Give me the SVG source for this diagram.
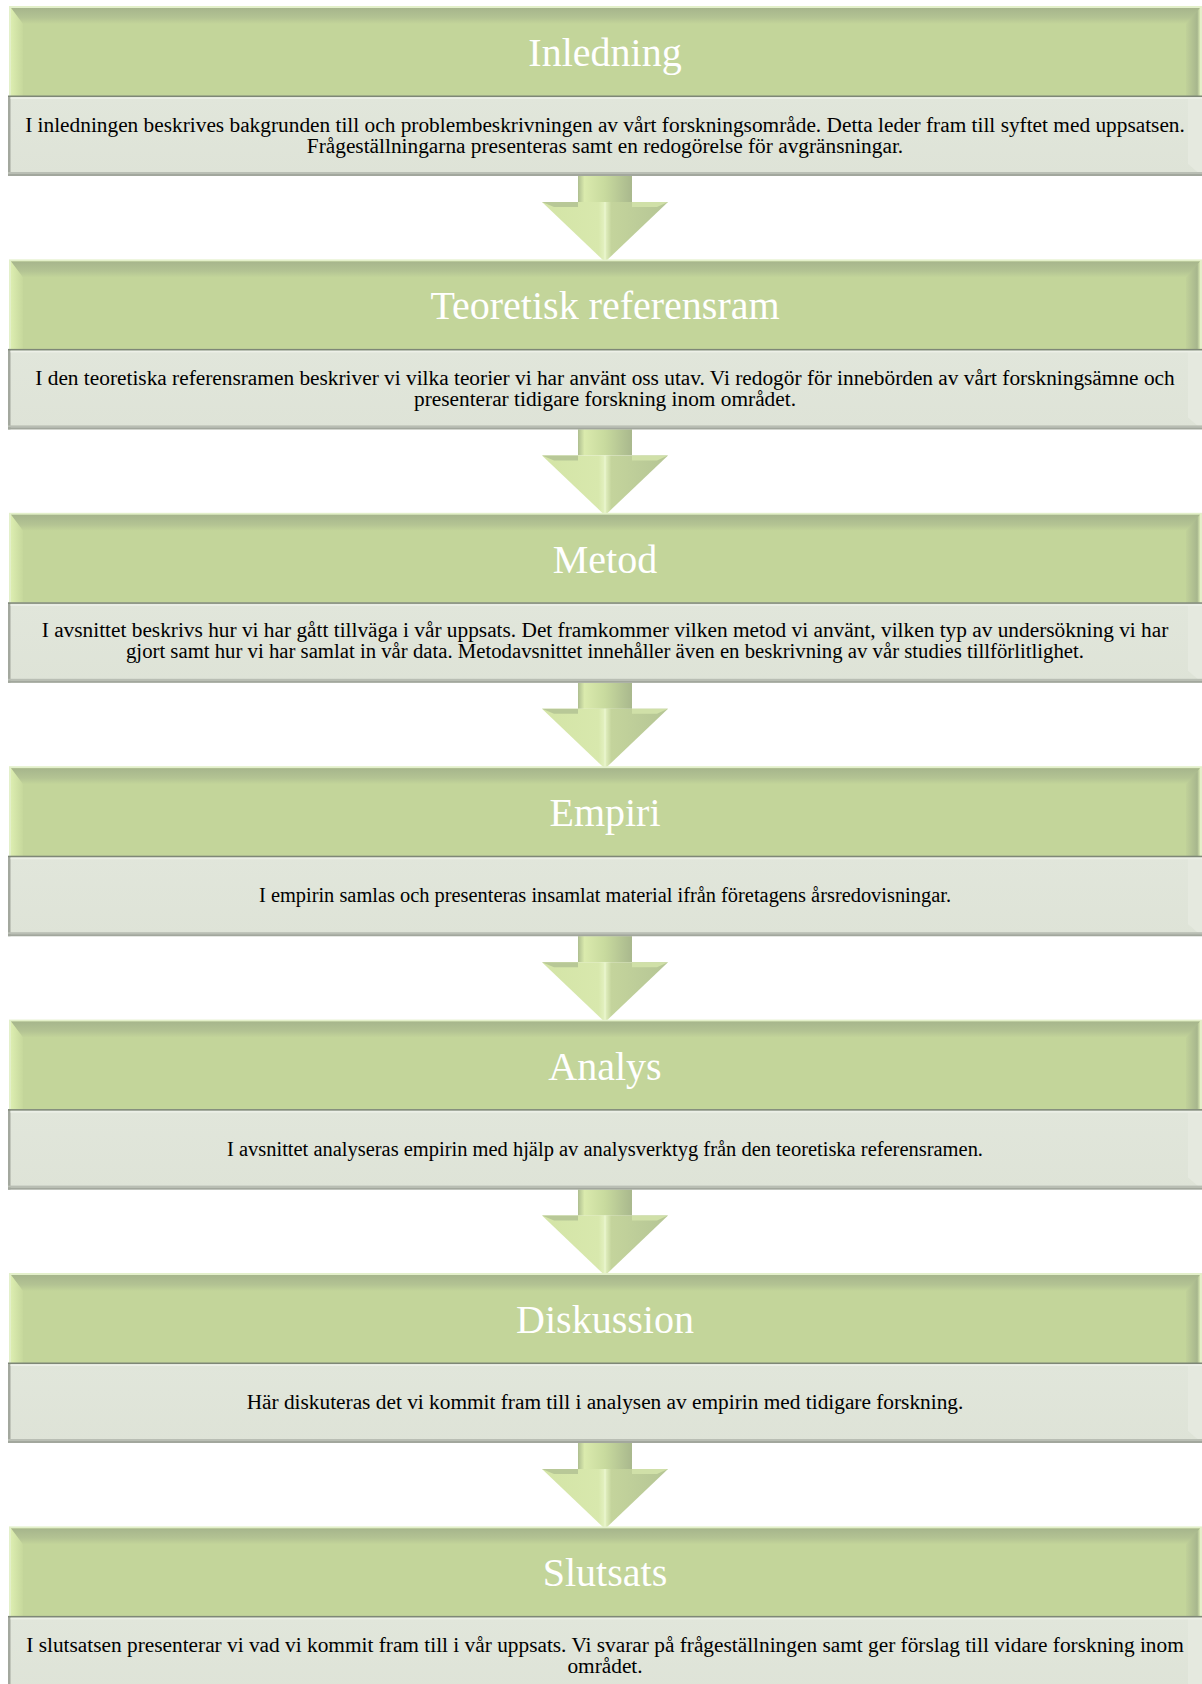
<svg xmlns="http://www.w3.org/2000/svg" xmlns:xlink="http://www.w3.org/1999/xlink" width="1202" height="1684" viewBox="0 0 1202 1684">
<style>
.title{font-family:"Liberation Serif","Times New Roman",serif;font-size:40px;fill:#ffffff;text-anchor:middle}
.body{font-family:"Liberation Serif","Times New Roman",serif;font-size:21.33px;fill:#000000;text-anchor:middle}
</style>
<defs>
<linearGradient id="gTop" x1="0" y1="0" x2="0" y2="1">
<stop offset="0" stop-color="#A6B58C"/><stop offset="0.6" stop-color="#B3C393"/><stop offset="1" stop-color="#C3D59A"/>
</linearGradient>
<linearGradient id="gLeft" x1="0" y1="0" x2="1" y2="0">
<stop offset="0" stop-color="#DCEDB0"/><stop offset="1" stop-color="#C6D89C"/>
</linearGradient>
<linearGradient id="gRight" x1="0" y1="0" x2="1" y2="0">
<stop offset="0" stop-color="#C0D199"/><stop offset="0.8" stop-color="#A7B68D"/><stop offset="1" stop-color="#D9E9B4"/>
</linearGradient>
<linearGradient id="gBody" x1="0" y1="0" x2="0" y2="1">
<stop offset="0" stop-color="#E1E6DB"/><stop offset="1" stop-color="#DEE3D7"/>
</linearGradient>
<linearGradient id="gShaft" x1="578" y1="0" x2="632" y2="0" gradientUnits="userSpaceOnUse">
<stop offset="0" stop-color="#AEBE90"/><stop offset="0.12" stop-color="#DAEAAD"/><stop offset="0.5" stop-color="#C8DA9E"/><stop offset="0.85" stop-color="#B2C292"/><stop offset="1" stop-color="#A9B88D"/>
</linearGradient>
<linearGradient id="gHead" x1="542" y1="0" x2="668" y2="0" gradientUnits="userSpaceOnUse">
<stop offset="0" stop-color="#D3E4A6"/><stop offset="0.45" stop-color="#D8E8AD"/><stop offset="0.5" stop-color="#E4F2C2"/><stop offset="0.55" stop-color="#C4D49C"/><stop offset="1" stop-color="#B5C595"/>
</linearGradient>
<g id="boxShape">
<rect x="9" y="-2" width="1193" height="92" fill="#E3F0CA"/>
<rect x="11" y="0" width="1189" height="88" fill="#C3D59A"/>
<polygon points="11,0 1200,0 1188,16 23,16" fill="url(#gTop)"/>
<polygon points="11,0 23,16 23,88 11,88" fill="url(#gLeft)"/>
<polygon points="1200,0 1200,88 1186,88 1186,16" fill="url(#gRight)"/>
<rect x="8" y="88" width="1194" height="80" fill="url(#gBody)"/>
<polygon points="1188,90 1202,88 1202,168 1188,156" fill="#E5E9DF"/>
<rect x="8" y="88" width="2.5" height="80" fill="#A3A89E"/>
<rect x="10.5" y="89.5" width="1191.5" height="1.5" fill="#EDF0E8"/>
<rect x="8" y="87.5" width="1194" height="1.5" fill="#7E8777"/>
<rect x="8" y="164" width="1194" height="2" fill="#B9BEB4"/>
<rect x="8" y="166" width="1194" height="2" fill="#A2A79D"/>
</g>
<g id="arrowShape">
<rect x="578" y="-6" width="54" height="32" fill="url(#gShaft)"/>
<polygon points="542,26 668,26 605,86" fill="url(#gHead)"/>
<polygon points="542,26 578,26 578,31 554,31" fill="#B8C897"/>
<polygon points="632,26 668,26 657,31 632,31" fill="#D0E0A8"/>
<line x1="605" y1="26" x2="605" y2="84" stroke="#E8F4CC" stroke-width="1.5"/>
</g>
</defs>
<rect width="1202" height="1684" fill="#ffffff"/>
<g id="connectors">
<use xlink:href="#arrowShape" y="176"/>
<use xlink:href="#arrowShape" y="429.4"/>
<use xlink:href="#arrowShape" y="682.8"/>
<use xlink:href="#arrowShape" y="936.2"/>
<use xlink:href="#arrowShape" y="1189.6"/>
<use xlink:href="#arrowShape" y="1443"/>
</g>
<g id="node-inledning">
<use xlink:href="#boxShape" y="8"/>
<text class="title" x="605" y="66">Inledning</text>
<text class="body" x="605" y="132">I inledningen beskrives bakgrunden till och problembeskrivningen av vårt forskningsområde. Detta leder fram till syftet med uppsatsen.</text>
<text class="body" x="605" y="153">Frågeställningarna presenteras samt en redogörelse för avgränsningar.</text>
</g>
<g id="node-teoretisk">
<use xlink:href="#boxShape" y="261.4"/>
<text class="title" x="605" y="319.4">Teoretisk referensram</text>
<text class="body" x="605" y="385.4">I den teoretiska referensramen beskriver vi vilka teorier vi har använt oss utav. Vi redogör för innebörden av vårt forskningsämne och</text>
<text class="body" x="605" y="406.4">presenterar tidigare forskning inom området.</text>
</g>
<g id="node-metod">
<use xlink:href="#boxShape" y="514.8"/>
<text class="title" x="605" y="572.8">Metod</text>
<text class="body" x="605" y="637">I avsnittet beskrivs hur vi har gått tillväga i vår uppsats. Det framkommer vilken metod vi använt, vilken typ av undersökning vi har</text>
<text class="body" x="605" y="658" textLength="958" lengthAdjust="spacingAndGlyphs">gjort samt hur vi har samlat in vår data. Metodavsnittet innehåller även en beskrivning av vår studies tillförlitlighet.</text>
</g>
<g id="node-empiri">
<use xlink:href="#boxShape" y="768.2"/>
<text class="title" x="605" y="826.2">Empiri</text>
<text class="body" x="605" y="902.2" textLength="692" lengthAdjust="spacingAndGlyphs">I empirin samlas och presenteras insamlat material ifrån företagens årsredovisningar.</text>
</g>
<g id="node-analys">
<use xlink:href="#boxShape" y="1021.6"/>
<text class="title" x="605" y="1079.6">Analys</text>
<text class="body" x="605" y="1155.6" textLength="756" lengthAdjust="spacingAndGlyphs">I avsnittet analyseras empirin med hjälp av analysverktyg från den teoretiska referensramen.</text>
</g>
<g id="node-diskussion">
<use xlink:href="#boxShape" y="1275"/>
<text class="title" x="605" y="1333">Diskussion</text>
<text class="body" x="605" y="1409">Här diskuteras det vi kommit fram till i analysen av empirin med tidigare forskning.</text>
</g>
<g id="node-slutsats">
<use xlink:href="#boxShape" y="1528.4"/>
<text class="title" x="605" y="1586.4">Slutsats</text>
<text class="body" x="605" y="1652.4">I slutsatsen presenterar vi vad vi kommit fram till i vår uppsats. Vi svarar på frågeställningen samt ger förslag till vidare forskning inom</text>
<text class="body" x="605" y="1673.4">området.</text>
</g>
</svg>
